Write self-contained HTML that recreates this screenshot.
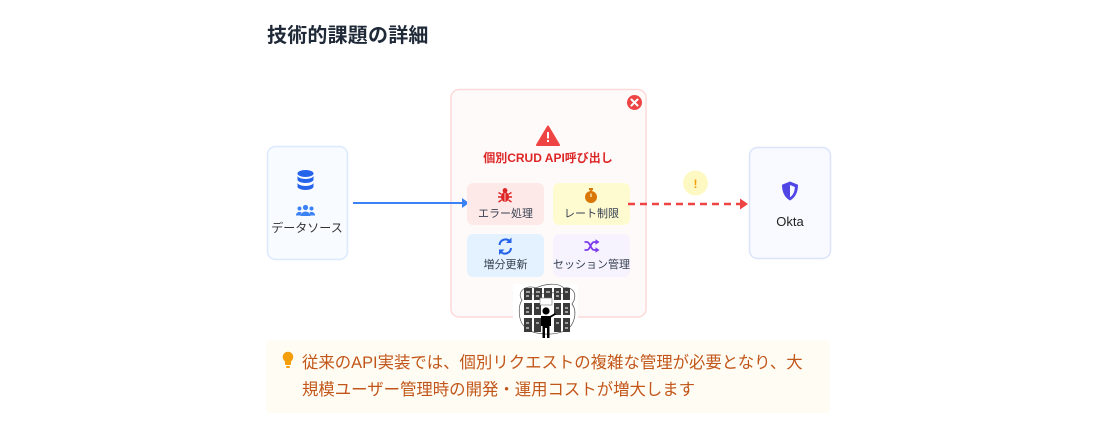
<!DOCTYPE html>
<html><head><meta charset="utf-8"><style>
html,body{margin:0;padding:0;background:#fff;}
body{width:1100px;height:421px;position:relative;overflow:hidden;font-family:"Liberation Sans","Noto Sans CJK JP",sans-serif;}
.t{position:absolute;white-space:nowrap;}
</style></head><body>
<div class="t" style="left:267px;top:19px;font-size:20px;font-weight:bold;color:#1f2937;letter-spacing:0.2px;">技術的課題の詳細</div>

<svg width="1100" height="421" style="position:absolute;left:0;top:0" xmlns="http://www.w3.org/2000/svg">
  <!-- left box -->
  <rect x="267.5" y="146.5" width="80" height="113" rx="8" fill="#f8fbff" stroke="#dbeafe" stroke-width="1.5"/>
  <!-- db icon -->
  <g fill="#2563eb">
    <ellipse cx="305.5" cy="173.5" rx="8" ry="3.5"/>
    <path d="M297.5 175.5 v4 a8 3.5 0 0 0 16 0 v-4 a8 3.5 0 0 1 -16 0z"/>
    <path d="M297.5 182.5 v4 a8 3.5 0 0 0 16 0 v-4 a8 3.5 0 0 1 -16 0z"/>
  </g>
  <!-- users icon -->
  <g fill="#3b82f6">
    <circle cx="305.5" cy="207.5" r="2.6"/>
    <circle cx="299.5" cy="208.5" r="2"/>
    <circle cx="311.5" cy="208.5" r="2"/>
    <path d="M300.5 216 a5 4.5 0 0 1 10 0z"/>
    <path d="M296 215.5 a3.5 3.5 0 0 1 5.5 -3 l-1 3z"/>
    <path d="M315 215.5 a3.5 3.5 0 0 0 -5.5 -3 l1 3z"/>
  </g>
  <text x="307" y="232" font-size="12" text-anchor="middle" fill="#333" font-family="Liberation Sans, Noto Sans CJK JP, sans-serif">データソース</text>

  <!-- center box -->
  <rect x="451" y="89.5" width="195" height="227.5" rx="8" fill="#fffafa" stroke="#fdd9d9" stroke-width="1.5"/>

  <!-- blue arrow -->
  <line x1="353" y1="203" x2="464" y2="203" stroke="#3b82f6" stroke-width="2"/>
  <path d="M462 198 L469 203 L462 208z" fill="#3b82f6"/>

  <!-- close icon -->
  <circle cx="634.5" cy="102.5" r="7.5" fill="#ef4444"/>
  <path d="M631.5 99.5 L637.5 105.5 M637.5 99.5 L631.5 105.5" stroke="#fff" stroke-width="2" stroke-linecap="round"/>
  <!-- warning -->
  <path d="M548 126.5 L559 145 L537 145z" fill="#ef4444" stroke="#ef4444" stroke-width="2" stroke-linejoin="round"/>
  <rect x="547" y="132" width="2" height="6.5" fill="#fff"/>
  <rect x="547" y="140" width="2" height="2" fill="#fff"/>
  <text x="548" y="162" font-size="12" font-weight="bold" text-anchor="middle" fill="#dc2626" font-family="Liberation Sans, Noto Sans CJK JP, sans-serif">個別CRUD API呼び出し</text>

  <!-- cards -->
  <rect x="467" y="183" width="77" height="42" rx="6" fill="#fee9e9"/>
  <rect x="553" y="183" width="77" height="42" rx="6" fill="#fefbd0"/>
  <rect x="467" y="234" width="77" height="43" rx="6" fill="#e3f2fe"/>
  <rect x="553" y="234" width="77" height="43" rx="6" fill="#f6f3ff"/>

  <!-- bug -->
  <g fill="#dc2626" stroke="#dc2626">
    <ellipse cx="505" cy="197" rx="4" ry="5" stroke="none"/>
    <circle cx="505" cy="190.5" r="2.4" stroke="none"/>
    <path d="M498.5 192.5 l3 1.8 M511.5 192.5 l-3 1.8 M498 197 h3.5 M512 197 h-3.5 M498.5 202 l3 -2 M511.5 202 l-3 -2" stroke-width="1.4" fill="none"/>
  </g>
  <line x1="505" y1="193" x2="505" y2="201.5" stroke="#fee9e9" stroke-width="0.8"/>
  <!-- stopwatch -->
  <g fill="#d97706">
    <circle cx="591" cy="197" r="6"/>
    <rect x="589" y="188" width="4" height="2.2"/>
    <rect x="590.2" y="189.5" width="1.6" height="2"/>
  </g>
  <line x1="591" y1="197" x2="591" y2="193.5" stroke="#fefbd0" stroke-width="1.2"/>
  <!-- sync -->
  <g fill="none" stroke="#2563eb" stroke-width="2">
    <path d="M499.5 245 a6 6 0 0 1 10.5 -3.5"/>
    <path d="M511 248 a6 6 0 0 1 -10.5 3.5"/>
  </g>
  <path d="M511.5 237.5 v5.5 h-5.5z" fill="#2563eb"/>
  <path d="M499 255 v-5.5 h5.5z" fill="#2563eb"/>
  <!-- shuffle -->
  <g fill="none" stroke="#7c3aed" stroke-width="1.8">
    <path d="M584.5 242 h2.5 c3 0 4 8 7 8 h2.5"/>
    <path d="M584.5 250 h2.5 c3 0 4 -8 7 -8 h2.5"/>
  </g>
  <path d="M595.5 239.2 l4 2.8 l-4 2.8z M595.5 247.2 l4 2.8 l-4 2.8z" fill="#7c3aed"/>

  <g font-size="11" fill="#374151" text-anchor="middle" font-family="Liberation Sans, Noto Sans CJK JP, sans-serif">
    <text x="505.5" y="217">エラー処理</text>
    <text x="591.5" y="217">レート制限</text>
    <text x="505.5" y="268">増分更新</text>
    <text x="591.5" y="268">セッション管理</text>
  </g>

  <!-- image -->
  <rect x="513" y="284" width="65" height="55" fill="#fff"/>
  <g fill="none" stroke="#555" stroke-width="0.7">
    <path d="M522 300 c-6 -8 4 -16 14 -12 c8 -4 22 -6 28 0 c10 -2 14 8 8 16 c6 8 2 22 -6 26 c-10 6 -34 6 -42 -4 c-6 -6 -6 -20 -2 -26z"/>
    <path d="M525 292 c10 6 30 -4 44 4"/>
  </g>
  <g fill="#3a3a3a">
    <rect x="524" y="288" width="8" height="12"/><rect x="534" y="288" width="8" height="12"/><rect x="544" y="288" width="8" height="12"/><rect x="554" y="288" width="7" height="12"/><rect x="563" y="288" width="7" height="12"/>
    <rect x="524" y="303" width="8" height="12"/><rect x="534" y="303" width="7" height="12"/><rect x="554" y="303" width="7" height="12"/><rect x="563" y="303" width="7" height="12"/>
    <rect x="524" y="318" width="8" height="14"/><rect x="534" y="318" width="7" height="14"/><rect x="554" y="318" width="7" height="14"/><rect x="563" y="318" width="7" height="14"/>
  </g>
  <g fill="#aaa" opacity="0.9">
    <rect x="526" y="291" width="4" height="2"/><rect x="536" y="291" width="4" height="2"/><rect x="546" y="291" width="4" height="2"/><rect x="556" y="291" width="3" height="2"/><rect x="565" y="291" width="3" height="2"/>
    <rect x="526" y="295" width="3" height="2"/><rect x="536" y="295" width="3" height="2"/><rect x="556" y="295" width="3" height="2"/>
    <rect x="526" y="307" width="3" height="2"/><rect x="536" y="307" width="3" height="2"/><rect x="556" y="307" width="3" height="2"/><rect x="565" y="307" width="3" height="2"/>
    <rect x="526" y="311" width="3" height="2"/><rect x="565" y="311" width="3" height="2"/>
    <rect x="526" y="322" width="3" height="2"/><rect x="536" y="322" width="3" height="2"/><rect x="556" y="322" width="3" height="2"/><rect x="565" y="322" width="3" height="2"/>
    <rect x="526" y="327" width="3" height="2"/><rect x="565" y="327" width="3" height="2"/>
  </g>
  <rect x="540" y="298" width="12" height="7" fill="#fff" stroke="#777" stroke-width="0.6"/>
  <g fill="#000">
    <circle cx="546" cy="311" r="3.6"/>
    <path d="M541 316 h10 v10 h-1.5 v12 h-2.5 v-10 h-2 v10 h-2.5 v-12 h-1.5z"/>
    <path d="M550 316 l5 -3 l1 1.5 l-5 3z"/>
  </g>

  <!-- red dashed -->
  <line x1="628" y1="204" x2="741" y2="204" stroke="#ef4444" stroke-width="2.5" stroke-dasharray="7 5"/>
  <path d="M740 198.5 L748 204 L740 209.5z" fill="#ef4444"/>
  <!-- warn circle -->
  <circle cx="695.5" cy="183" r="12.5" fill="#fef9c3"/>
  <text x="695.5" y="188" font-size="12" font-weight="bold" text-anchor="middle" fill="#f59e0b" font-family="Liberation Sans, sans-serif">!</text>

  <!-- okta box -->
  <rect x="749.5" y="147.5" width="81" height="111" rx="8" fill="#f8faff" stroke="#dbe4fb" stroke-width="1.5"/>
  <path d="M790 181.5 L798 184.8 C798 192 795.5 197.5 790 200.5 C784.5 197.5 782 192 782 184.8z" fill="#4f46e5"/>
  <path d="M790 185 L794.8 187 C794.8 191.5 793.2 195 790 197.2z" fill="#f8faff"/>
  <text x="790" y="226" font-size="13" text-anchor="middle" fill="#222" font-family="Liberation Sans, sans-serif">Okta</text>

  <!-- note -->
  <rect x="266" y="340" width="564" height="73" rx="4" fill="#fffdf3"/>
  <g fill="#f59e0b">
    <circle cx="288" cy="357" r="5.3"/>
    <rect x="285" y="361" width="6" height="4" rx="1"/>
    <rect x="286" y="366" width="4" height="2" rx="1"/>
  </g>
</svg>
<div class="t" style="left:302px;top:350px;font-size:16.4px;line-height:27px;color:#c2561a;">従来のAPI実装では、個別リクエストの複雑な管理が必要となり、大<br>規模ユーザー管理時の開発・運用コストが増大します</div>
</body></html>
